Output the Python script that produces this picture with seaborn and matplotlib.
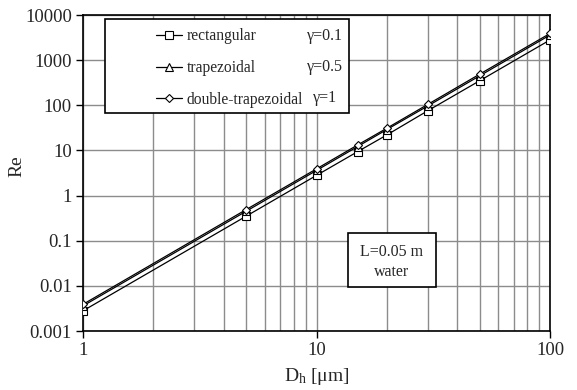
import numpy as np
import pandas as pd
import matplotlib
matplotlib.use("Agg")
import matplotlib.pyplot as plt
from matplotlib.ticker import FixedLocator, FuncFormatter, LogLocator, NullFormatter
from matplotlib.patches import Rectangle
import seaborn as sns

# ---- data ----
dh = [1, 5, 10, 15, 20, 30, 50, 100]
re_rect = [0.0028, 0.35, 2.8, 9.4, 22, 76, 350, 2800]
re_trap = [0.0036, 0.45, 3.6, 12.2, 29, 97, 450, 3600]
re_dtrap = [0.0039, 0.49, 3.9, 13.2, 31, 105, 490, 3900]
series_names = ["rectangular", "trapezoidal", "double-trapezoidal"]
gammas = ["\u03b3=0.1", "\u03b3=0.5", "\u03b3=1"]
markers = ["s", "^", "D"]
yticks = [0.001, 0.01, 0.1, 1, 10, 100, 1000, 10000]
xticks = [1, 10, 100]

sns.set_style("white")
plt.rcParams["font.family"] = ["Liberation Serif", "DejaVu Serif"]
plt.rcParams["mathtext.fontset"] = "custom"
plt.rcParams["mathtext.rm"] = "Liberation Serif"
plt.rcParams["mathtext.it"] = "Liberation Serif:italic"

fig = plt.figure(figsize=(5.77, 3.90), dpi=100)
ax = fig.add_axes([83/577, 1-331/390, 467/577, 316/390])

df = pd.DataFrame({
    "Dh": dh * 3,
    "Re": re_rect + re_trap + re_dtrap,
    "type": sum([[n] * len(dh) for n in series_names], []),
})

msizes = {"s": 5.2, "^": 5.8, "D": 4.4}
for name, mk in zip(series_names, markers):
    sub = df[df["type"] == name]
    sns.lineplot(data=sub, x="Dh", y="Re", ax=ax, color="black", lw=0.9,
                 marker=mk, markersize=msizes[mk], markerfacecolor="white",
                 markeredgecolor="black", markeredgewidth=0.8, label=name,
                 legend=False, zorder=3)

ax.set_xscale("log")
ax.set_yscale("log")
ax.set_xlim(1, 100)
ax.set_ylim(0.001, 10000)

ax.yaxis.set_major_locator(FixedLocator(yticks))
ax.yaxis.set_minor_locator(FixedLocator([]))
ax.xaxis.set_major_locator(FixedLocator(xticks))
ax.xaxis.set_minor_locator(LogLocator(base=10, subs=np.arange(2, 10)))
ax.xaxis.set_minor_formatter(NullFormatter())
ax.yaxis.set_major_formatter(FuncFormatter(lambda v, p: f"{v:g}"))
ax.xaxis.set_major_formatter(FuncFormatter(lambda v, p: f"{v:g}"))

ax.grid(True, which="major", color="#8c8c8c", lw=1.0)
ax.grid(True, which="minor", axis="x", color="#8c8c8c", lw=1.0)
ax.set_axisbelow(True)

ax.tick_params(axis="both", which="major", direction="out", length=5, width=1,
               color="black", labelsize=13.5, pad=3, left=True, bottom=True)
ax.tick_params(axis="x", which="minor", length=0)
for s in ax.spines.values():
    s.set_color("black")
    s.set_linewidth(1.2)

ax.set_xlabel("D$_\\mathrm{h}$ [\u03bcm]", fontsize=14, labelpad=5)
ax.set_ylabel("Re", fontsize=14)
ax.yaxis.set_label_coords(-0.141, 0.52)
ax.yaxis.label.set_va("center")

# legend frame
ax.add_patch(Rectangle((22/467, 1-98/316), 244/467, 94/316, transform=ax.transAxes,
                       facecolor="white", edgecolor="black", lw=1.2, zorder=5))
h, l = ax.get_legend_handles_labels()
leg = ax.legend(h, l, loc="center left", bbox_to_anchor=(0.157, 1-53/316),
                frameon=False, fontsize=11.2, handlelength=1.65, handletextpad=0.3,
                labelspacing=1.02, borderpad=0, borderaxespad=0)
leg.set_zorder(6)
for i, g in enumerate(gammas):
    ax.text(224/467 + (0.013 if g.endswith("=1") else 0), 1 - (21 + 31*i)/316, g,
            transform=ax.transAxes, fontsize=11.5, va="center", ha="left", zorder=7)

# L box
ax.add_patch(Rectangle((265/467, 1-272/316), 88/467, 54/316, transform=ax.transAxes,
                       facecolor="white", edgecolor="black", lw=1.2, zorder=5))
ax.text(309/467, 1-237/316, "L=0.05 m", transform=ax.transAxes, fontsize=11.5,
        ha="center", va="center", zorder=7)
ax.text(309/467, 1-257/316, "water", transform=ax.transAxes, fontsize=11.5,
        ha="center", va="center", zorder=7)

fig.savefig("out.png", dpi=100)
